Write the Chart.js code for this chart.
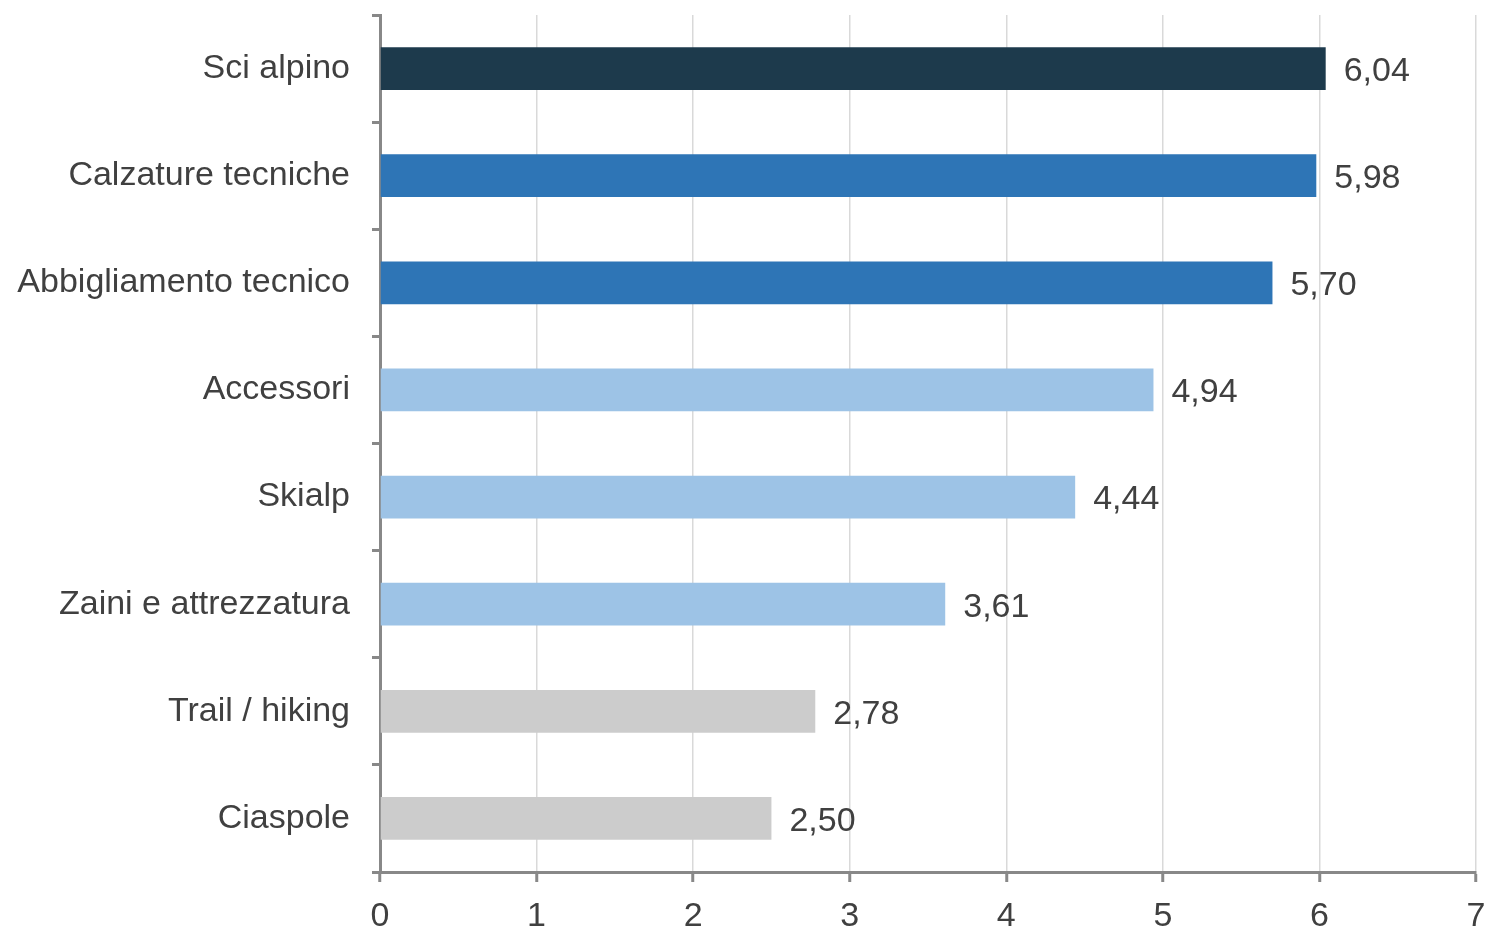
<!DOCTYPE html>
<html>
<head>
<meta charset="utf-8">
<script src="https://cdn.jsdelivr.net/npm/chart.js@4/dist/chart.umd.min.js"></script>
<style>
  html, body { margin: 0; padding: 0; background: #fff; }
  #wrap { width: 1486px; height: 933px; }
</style>
</head>
<body>
<div id="wrap"><canvas id="chart" width="1486" height="933"></canvas></div>
<script>
  const categories = ["Sci alpino", "Calzature tecniche", "Abbigliamento tecnico", "Accessori", "Skialp", "Zaini e attrezzatura", "Trail / hiking", "Ciaspole"];
  const values = [6.04, 5.98, 5.70, 4.94, 4.44, 3.61, 2.78, 2.50];
  const barColors = ["#1d3a4c", "#2e75b6", "#2e75b6", "#9dc3e6", "#9dc3e6", "#9dc3e6", "#cccccc", "#cccccc"];
  const xTicks = [0, 1, 2, 3, 4, 5, 6, 7];

  const font = "'Liberation Sans', Arial, sans-serif";
  const textColor = "#404040";

  // draws the value next to each bar, italian decimal comma
  const valueLabels = {
    id: "valueLabels",
    afterDatasetsDraw(chart) {
      const c = chart.ctx;
      const meta = chart.getDatasetMeta(0);
      c.save();
      c.font = "34px " + font;
      c.fillStyle = textColor;
      c.textBaseline = "middle";
      c.textAlign = "left";
      meta.data.forEach((bar, i) => {
        c.fillText(values[i].toFixed(2).replace(".", ","), bar.x + 18, bar.y + 3);
      });
      c.restore();
    },
  };

  new Chart(document.getElementById("chart").getContext("2d"), {
    type: "bar",
    data: {
      labels: categories,
      datasets: [
        {
          data: values,
          backgroundColor: barColors,
          borderWidth: 0,
          barPercentage: 0.4,
          categoryPercentage: 1,
        },
      ],
    },
    options: {
      indexAxis: "y",
      responsive: false,
      animation: false,
      layout: { padding: { top: 15, right: 10, left: 0, bottom: 0 } },
      plugins: { legend: { display: false }, tooltip: { enabled: false } },
      scales: {
        x: {
          min: 0,
          max: 7,
          afterBuildTicks: (scale) => { scale.ticks = xTicks.map((v) => ({ value: v })); },
          afterFit: (scale) => {
            scale.height = 61;
            scale.paddingLeft = 0;
            scale.paddingRight = 0;
          },
          border: { color: "#888888", width: 3 },
          grid: { color: "#d9d9d9", lineWidth: 1.5, tickColor: "#888888", tickLength: 10, tickWidth: 3 },
          ticks: { color: textColor, font: { family: font, size: 34 }, padding: 14 },
        },
        y: {
          afterFit: (scale) => {
            scale.width = 380;
            scale.paddingTop = 0;
            scale.paddingBottom = 0;
          },
          border: { color: "#888888", width: 3 },
          grid: { offset: true, drawOnChartArea: false, tickColor: "#888888", tickLength: 8, tickWidth: 3 },
          ticks: { color: textColor, font: { family: font, size: 34 }, padding: 22 },
        },
      },
    },
    plugins: [valueLabels],
  });
</script>
</body>
</html>
